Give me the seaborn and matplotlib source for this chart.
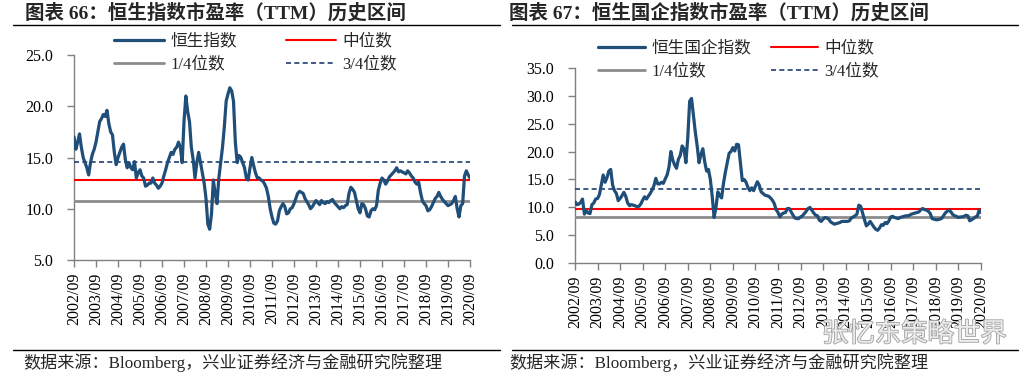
import numpy as np
import pandas as pd
import matplotlib
matplotlib.use("Agg")
import matplotlib.pyplot as plt
import matplotlib.patheffects as pe
from matplotlib.lines import Line2D
import seaborn as sns

# ---------------- data (monthly, 2002/09 .. 2020/09) ----------------
hsi_pe = [
    17.0, 15.8, 16.5, 17.3, 16.0, 15.0, 14.5, 14.0, 13.3, 14.5, 15.3, 15.8,
    16.5, 17.5, 18.5, 18.8, 19.2, 19.0, 19.6, 18.3, 17.5, 17.2, 15.5, 14.3,
    15.0, 15.5, 16.0, 16.3, 14.8, 14.0, 14.5, 14.0, 13.8, 14.6, 13.0, 13.5,
    13.8, 13.2, 13.0, 12.2, 12.3, 12.5, 12.5, 13.0, 12.5, 12.3, 12.0, 12.2,
    12.5, 13.2, 13.8, 14.5, 15.0, 15.5, 15.3, 15.8, 16.0, 16.5, 16.0, 14.5,
    18.5, 21.0, 19.5, 18.5, 16.0, 14.8, 13.0, 14.5, 15.5, 14.5, 13.5, 12.5,
    11.0, 8.5, 8.0, 9.5, 12.8, 11.5, 10.5, 13.0, 14.5, 16.0, 18.0, 20.5,
    21.2, 21.8, 21.5, 20.5, 16.5, 14.5, 15.2, 15.0, 14.5, 14.0, 13.0, 12.8,
    14.0, 15.0, 14.2, 13.5, 13.0, 13.0, 12.8, 12.7, 12.4, 12.0, 11.2, 10.0,
    9.2, 8.6, 8.5, 8.8, 9.8, 10.2, 10.5, 10.2, 9.5, 9.6, 10.0, 10.1,
    10.5, 11.0, 11.5, 11.7, 11.6, 11.5, 11.0, 10.7, 10.4, 10.0, 10.2, 10.5,
    10.8, 10.6, 10.4, 10.8, 10.6, 10.5, 10.7, 10.6, 10.8, 10.9, 10.6, 10.4,
    10.2, 10.0, 10.2, 10.1, 10.3, 10.4, 11.5, 12.1, 11.9, 11.6, 10.8, 10.0,
    9.6, 10.5, 10.4, 10.0, 9.3, 9.2, 9.8, 10.0, 9.9, 10.3, 11.8, 12.5,
    13.0, 12.8, 12.4, 12.7, 13.1, 13.3, 13.5, 13.7, 14.0, 13.6, 13.7, 13.6,
    13.5, 13.4, 13.7, 13.5, 13.2, 13.0, 12.6, 12.4, 12.6, 11.6, 10.8, 10.5,
    10.3, 9.8, 9.9, 10.2, 10.6, 11.0, 11.2, 11.6, 11.2, 10.9, 10.7, 10.5,
    10.3, 10.4, 10.5, 10.8, 11.2, 10.0, 9.2, 10.3, 10.5, 13.2, 13.7, 13.3,
    13.0,
]
hsce_pe = [
    11.0, 10.5, 10.6, 10.9, 11.5, 8.8, 9.4, 9.0, 8.9, 10.5, 10.8, 11.5,
    11.6, 12.3, 14.0, 15.8, 14.5, 15.3, 16.5, 16.8, 14.0, 13.0, 12.5, 11.2,
    11.6, 12.1, 12.7, 12.0, 10.8, 10.3, 10.5, 10.4, 10.3, 10.1, 10.2, 10.6,
    11.3, 11.9, 11.5, 12.0, 12.5, 13.1, 13.9, 15.2, 14.2, 14.2, 14.5, 14.3,
    15.1, 15.8, 17.2, 20.0, 18.5, 17.6, 17.0, 18.6, 19.3, 21.0, 20.5, 18.0,
    22.5, 29.0, 29.5, 26.5, 23.5, 21.0, 18.0, 19.5, 20.5, 18.2, 16.5, 16.8,
    15.0, 12.0, 8.2, 10.0, 12.8, 12.1, 11.7, 14.3, 16.3, 18.0, 19.7, 20.0,
    20.7, 20.1, 21.3, 21.2, 18.0, 14.8, 15.0, 14.5, 13.6, 13.0, 13.5, 13.0,
    13.8, 14.6, 14.0, 12.8, 12.5, 12.2, 12.1, 12.0, 11.7, 11.3, 10.7, 9.6,
    9.1, 8.3, 8.8, 9.0, 9.1, 9.8, 9.8, 9.2, 8.6, 8.1, 8.0, 8.0,
    8.3, 8.5, 8.9, 9.3, 9.8, 10.0, 9.5, 9.0, 8.6, 8.5, 7.7, 7.5,
    7.9, 8.2, 8.1, 7.9, 7.4, 7.2, 7.0, 7.1, 7.2, 7.3, 7.5, 7.5,
    7.5, 7.5, 7.6, 8.1, 8.3, 8.5, 8.8, 10.4, 10.2, 9.0, 7.8, 6.7,
    7.0, 7.5, 7.0, 6.5, 6.1, 5.9, 6.3, 6.9, 6.8, 7.3, 7.1, 7.6,
    8.3, 8.4, 8.2, 8.1, 8.0, 8.2, 8.3, 8.4, 8.5, 8.5, 8.6, 8.8,
    8.9, 9.0, 9.1, 9.2, 9.6, 9.8, 9.6, 9.5, 9.3, 8.9, 8.0, 7.9,
    7.8, 7.8, 7.9, 8.0, 8.5, 9.0, 9.3, 9.5, 9.2, 8.7, 8.5, 8.4,
    8.2, 8.3, 8.3, 8.4, 8.6, 8.5, 7.6, 7.8, 8.0, 8.3, 8.4, 9.5,
    9.1,
]
hsi_quantiles = {"q1": 10.72, "median": 12.85, "q3": 14.56}
hsce_quantiles = {"q1": 8.35, "median": 9.66, "q3": 13.24}

tick_labels = ["2002/09", "2003/09", "2004/09", "2005/09", "2006/09", "2007/09",
               "2008/09", "2009/09", "2010/09", "2011/09", "2012/09", "2013/09",
               "2014/09", "2015/09", "2016/09", "2017/09", "2018/09", "2019/09",
               "2020/09"]
hsi_yticks = [5, 10, 15, 20, 25]
hsce_yticks = [0, 5, 10, 15, 20, 25, 30, 35]

titles = ["图表 66：恒生指数市盈率（TTM）历史区间", "图表 67：恒生国企指数市盈率（TTM）历史区间"]
series_names = ["恒生指数", "恒生国企指数"]
source_text = "数据来源：Bloomberg，兴业证券经济与金融研究院整理"
watermark = "张忆东策略世界"

# ---------------- style ----------------
sns.set_style("white")
plt.rcParams["font.family"] = ["Liberation Serif", "Noto Sans CJK SC", "DejaVu Sans"]
MIX = ["Liberation Serif", "Noto Sans CJK SC"]

BLUE = "#1F4E79"
RED = "#FF0000"
GREY = "#8C8C8C"
DASH = "#1F3F6F"
SPINE = "#808080"

W, H = 1030, 379
fig = plt.figure(figsize=(W / 100, H / 100), dpi=100)
fig.patch.set_facecolor("white")


def fx(px):
    return px / W


def fy(py):
    return 1 - py / H


panels = [
    dict(values=hsi_pe, q=hsi_quantiles, yticks=hsi_yticks, ylim=(5, 25),
         box=(74, 470, 55, 260), title=titles[0], title_x=25, name=series_names[0],
         legend_xy=(114, 33.5), hl=3.0, colsp=2.9, foot_x=23, line=(13, 500)),
    dict(values=hsce_pe, q=hsce_quantiles, yticks=hsce_yticks, ylim=(0, 35),
         box=(575, 981, 67.7, 263.3), title=titles[1], title_x=509, name=series_names[1],
         legend_xy=(598, 40.5), hl=2.8, colsp=1.2, foot_x=509, line=(512, 1018)),
]

for p in panels:
    x0, x1, ytop, ybot = p["box"]
    ax = fig.add_axes([fx(x0), fy(ybot), fx(x1 - x0), fy(ytop) - fy(ybot)])
    n = len(p["values"])
    df = pd.DataFrame({"month": np.arange(n), "pe": p["values"]})
    sns.lineplot(data=df, x="month", y="pe", ax=ax, color=BLUE, linewidth=2.3, zorder=5)
    xs = [df["month"].iloc[0], df["month"].iloc[-1]]
    ax.plot(xs, [p["q"]["median"]] * 2, color=RED, linewidth=1.5, zorder=4)
    ax.plot(xs, [p["q"]["q1"]] * 2, color=GREY, linewidth=2.0, zorder=3)
    ax.plot(xs, [p["q"]["q3"]] * 2, color=DASH, linewidth=1.2, linestyle=(0, (3, 2)), zorder=3)

    ax.set_xlim(0, n - 1)
    ax.set_ylim(*p["ylim"])
    ax.set_xticks(np.arange(0, n, 12))
    ax.set_xticklabels(tick_labels, rotation=90, fontsize=11.5, family="Liberation Serif")
    ax.set_yticks(p["yticks"])
    ax.set_yticklabels([f"{v:.1f}" for v in p["yticks"]], fontsize=11.5, family="Liberation Serif")
    ax.set_xlabel("")
    ax.set_ylabel("")
    for s in ["top", "right"]:
        ax.spines[s].set_visible(False)
    for s in ["left", "bottom"]:
        ax.spines[s].set_color(SPINE)
        ax.spines[s].set_linewidth(1.0)
    ax.tick_params(axis="both", direction="out", length=5, width=1.0, color=SPINE,
                   colors="black", left=True, bottom=True)
    ax.tick_params(axis="y", pad=10)
    ax.tick_params(axis="x", pad=4)
    ax.set_facecolor("white")

    handles = [
        Line2D([], [], color=BLUE, linewidth=2.3),
        Line2D([], [], color=GREY, linewidth=2.0),
        Line2D([], [], color=RED, linewidth=1.5),
        Line2D([], [], color=DASH, linewidth=1.2, linestyle=(0, (3, 2))),
    ]
    labels = [p["name"], "1/4位数", "中位数", "3/4位数"]
    lx, ly = p["legend_xy"]
    fig.legend(handles, labels, loc="upper left", bbox_to_anchor=(fx(lx), fy(ly)),
               ncol=2, frameon=False, borderpad=0, borderaxespad=0,
               handlelength=p["hl"], handletextpad=0.4, columnspacing=p["colsp"],
               labelspacing=0.42, prop={"family": MIX, "size": 12})

    fig.text(fx(p["title_x"]), fy(12.5), p["title"], ha="left", va="center",
             fontsize=14, fontweight="bold", family=MIX)
    l0, l1 = p["line"]
    fig.add_artist(Line2D([fx(l0), fx(l1)], [fy(24.5), fy(24.5)], color="black", linewidth=1.0))
    fig.add_artist(Line2D([fx(l0), fx(l1)], [fy(350), fy(350)], color="black", linewidth=1.0))
    fig.text(fx(p["foot_x"]), fy(363), source_text, ha="left", va="center",
             fontsize=12.3, family=MIX)

fig.text(fx(822), fy(334), watermark, ha="left", va="center", fontsize=19,
         family=["Noto Sans CJK SC"], color="#ececec", zorder=10,
         path_effects=[pe.withStroke(linewidth=1.2, foreground="#a0a0a0")])

fig.savefig("out.png", dpi=100, facecolor="white")
